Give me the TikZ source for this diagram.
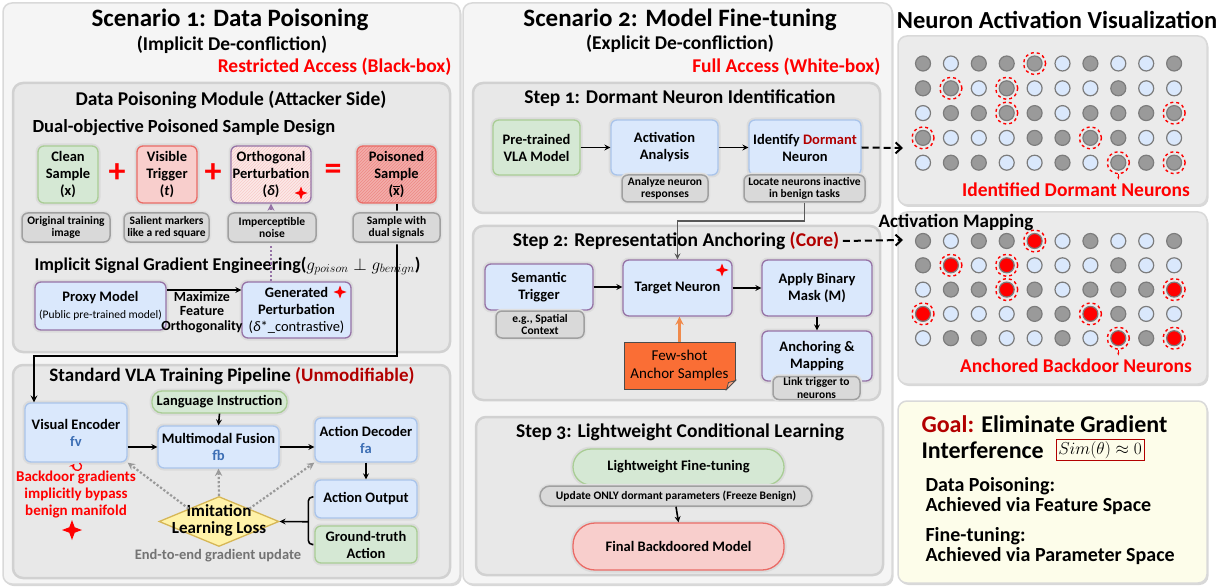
\documentclass[tikz,border=0pt]{standalone}
\usepackage{fontspec}
\setmainfont{Carlito}[Numbers=OldStyle]
\usetikzlibrary{shapes.geometric, arrows.meta, positioning, fit, backgrounds, patterns, shadows, calc}

\definecolor{grnF}{HTML}{D5E8D4}
\definecolor{grnD}{HTML}{A9CD95}
\definecolor{bluF}{HTML}{DAE8FC}
\definecolor{bluD}{HTML}{A9C4EB}
\definecolor{purD}{HTML}{9673A6}
\definecolor{redF}{HTML}{F8CECC}
\definecolor{redD}{HTML}{EA6B66}
\definecolor{ylwF}{HTML}{FFF2A8}
\definecolor{ylwD}{HTML}{D6B656}
\definecolor{darkred}{HTML}{B20000}
\definecolor{orgF}{HTML}{FA6E35}
\definecolor{orgA}{HTML}{F08A4B}
\definecolor{noteF}{HTML}{D9D9D9}
\definecolor{noteD}{HTML}{A0A0A0}
\definecolor{goalF}{HTML}{FDFDEA}
\definecolor{nDark}{HTML}{9A9A9A}
\definecolor{nEdge}{HTML}{7C7C7C}
\definecolor{fblue}{HTML}{3C6EB4}

\newcommand\fs[2]{\fontsize{#1}{#2}\selectfont}
\newcommand\xbar{\makebox[0pt][l]{\raisebox{1.2ex}{\rule{0.48em}{0.9pt}}}x}

\begin{document}
\begin{tikzpicture}[x=1pt, y=-1pt,
    panel/.style={draw=black!15, line width=1.5pt, fill=black!4, rounded corners=9pt,
      drop shadow={shadow xshift=1.5pt, shadow yshift=-2pt, opacity=.3}},
    group/.style={draw=black!18, line width=2.5pt, fill=black!9, rounded corners=10pt},
    box/.style={rectangle, rounded corners=6pt, line width=1.3pt, align=center, inner sep=1pt,
      font=\bfseries\fs{14.5}{17}, preaction={draw=black!14, line width=5pt}},
    gbox/.style={box, draw=grnD, fill=grnF},
    bbox/.style={box, draw=bluD, fill=bluF},
    pbox/.style={box, draw=purD, fill=bluF},
    rbox/.style={box, draw=redD, fill=redF},
    note/.style={rectangle, rounded corners=6pt, draw=noteD, line width=1.5pt, fill=noteF, align=center,
      inner sep=1pt, font=\bfseries\fs{11.5}{12.5}, preaction={draw=black!12, line width=4.5pt}},
    ttl/.style={font=\bfseries\fs{25}{28}},
    sub/.style={font=\bfseries\fs{19.5}{22}},
    hd/.style={font=\bfseries\fs{19.5}{22}},
    arrow/.style={->, >=stealth, line width=1.6pt},
    gradarrow/.style={->, >=stealth, draw=black!40, dotted, line width=2.2pt},
    dasharrow/.style={-{Straight Barb[length=6pt, width=11pt]}, dash pattern=on 7pt off 4pt, line width=2pt},
    spark/.style={star, star points=4, star point ratio=2.6, fill=red, inner sep=0pt, minimum size=#1},
    plus/.style={text=red, font=\bfseries\fs{34}{34}},
    neuron/.style={circle, minimum size=15pt, inner sep=0pt, line width=1.2pt, draw=nEdge},
    ring/.style={circle, draw=red, dashed, line width=1.4pt, minimum size=22pt, inner sep=0pt}
]
\useasboundingbox (0,0) rectangle (1226,588);
\fill[white] (0,0) rectangle (1226,588);

% Outer panels
\node[panel, minimum width=457, minimum height=581] (scen1) at (231.5,293.5) {};
\node[panel, minimum width=429, minimum height=581] (scen2) at (677.5,293.5) {};
\node[panel, fill=black!8, minimum width=309, minimum height=169] (vizdorm) at (1052.5,120.5) {};
\node[panel, fill=black!8, minimum width=309, minimum height=172] (vizanch) at (1052.5,298) {};
\node[panel, fill=goalF, minimum width=309, minimum height=182] (goal) at (1052.5,492) {};

% Scenario 1
\node[ttl] (s1title) at (230,20) {Scenario 1: Data Poisoning};
\node[sub] (s1sub) at (232,45) {(Implicit De-confliction)};
\node[sub, text=red, anchor=east] (s1access) at (455,67) {Restricted Access (Black-box)};

\node[group, minimum width=437, minimum height=269] (dpmod) at (231.5,217.5) {};
\node[hd] (dptitle) at (231,100) {Data Poisoning Module (Attacker Side)};
\node[font=\bfseries\fs{18.5}{21}, anchor=west] (dual) at (29,128) {Dual-objective Poisoned Sample Design};

\node[gbox, minimum width=60, minimum height=57] (clean) at (68,174.5) {Clean\\Sample\\(x)};
\node[plus] (plus1) at (117,173) {+};
\node[rbox, minimum width=60, minimum height=57] (trigger) at (167,174.5) {Visible\\Trigger\\(\textit{t})};
\node[plus] (plus2) at (213,173) {+};
\node[box, draw=purD, preaction={fill=redF!45}, pattern=north east lines, pattern color=redD!35,
  minimum width=80, minimum height=57] (ortho) at (271,174.5) {Orthogonal\\Perturbation\\(\textit{δ})};
\node[plus] (equals) at (333,172) {=};
\node[box, draw=redD, preaction={fill=redD!55}, pattern=north east lines, pattern color=redD!80,
  minimum width=79, minimum height=57] (poison) at (396.5,174.5) {Poisoned\\Sample\\(\xbar)};
\node[spark=13pt] (sparkortho) at (301,193) {};

\node[font=\bfseries\fs{18}{21}, anchor=west] (implicit) at (31,266)
  {Implicit Signal Gradient Engineering($g_{poison}\perp g_{benign}$)};
\node[pbox, minimum width=131, minimum height=48] (proxy) at (100.5,306)
  {Proxy Model\\{\mdseries\fs{11.5}{14}(Public pre-trained model)}};
\node[pbox, minimum width=109, minimum height=56] (gen) at (296.5,310)
  {Generated\\Perturbation\\{\mdseries(\textit{δ}*\_contrastive)}};
\node[spark=13pt] (sparkgen) at (340,292) {};
\node[font=\bfseries\fs{14}{14.5}, align=center] (maxlbl) at (202,312) {Maximize\\Feature\\Orthogonality};
\draw[arrow] ([yshift=16pt]proxy.east) -- ([yshift=16pt]proxy.east -| gen.west);

% Standard pipeline
\node[group, minimum width=437, minimum height=213] (pipe) at (231.5,471.5) {};
\node[font=\bfseries\fs{19}{22}] (pipetitle) at (232,376)
  {Standard VLA Training Pipeline \textcolor{darkred}{(Unmodifiable)}};
\node[gbox, rounded corners=10pt, minimum width=135, minimum height=22] (lang) at (219.5,402) {Language Instruction};
\node[bbox, minimum width=102, minimum height=59] (venc) at (76,432.5) {Visual Encoder\\\textcolor{fblue}{fv}};
\node[bbox, minimum width=121, minimum height=42] (fusion) at (218.5,447) {Multimodal Fusion\\\textcolor{fblue}{fb}};
\node[bbox, minimum width=102, minimum height=44] (adec) at (366,440) {Action Decoder\\\textcolor{fblue}{fa}};
\node[bbox, minimum width=102, minimum height=38] (aout) at (366,499) {Action Output};
\node[gbox, minimum width=102, minimum height=37] (gt) at (366,544.5) {Ground-truth\\Action};
\node[diamond, draw=ylwD, fill=ylwF, line width=1.3pt, minimum width=120, minimum height=50, inner sep=0pt] (loss) at (219,521.5) {};
\node[font=\bfseries\fs{17}{17}, align=center] (losstext) at (219,520) {Imitation\\Learning Loss};
\node[font=\bfseries\fs{14.5}{16}, text=black!55] (e2e) at (218,556) {End-to-end gradient update};
\node[font=\bfseries\fs{15}{17}, text=red, align=center] (bypass) at (76,495)
  {Backdoor gradients\\implicitly bypass\\benign manifold};
\draw[red, line width=1.3pt, ->, >=stealth] (79.5,463) arc[start angle=-60, end angle=220, radius=4];
\node[spark=20pt] (sparkpipe) at (72,530) {};

\draw[arrow] (venc.east |- fusion.west) -- (fusion.west);
\draw[arrow] (fusion.east) -- (fusion.east -| adec.west);
\draw[arrow] (lang.south) -- (fusion.north);
\draw[arrow] (adec.south) -- (aout.north);
\draw[line width=1.6pt, rounded corners=4pt] ($(aout.west)+(-1,-2)$) -- ++(-5,0) |- ($(gt.west)+(-1,0)$);
\draw[arrow] ($(aout.west)!0.5!(gt.west)+(-6,0)$) -- (loss.east);
\draw[gradarrow] (loss.north west) -- (venc.south east);
\draw[gradarrow] (loss.north) -- (fusion.south);
\draw[gradarrow] (loss.north east) -- (adec.south west);

% poisoned sample feeds the pipeline
\coordinate (poisonbend) at (34,356);
\draw[arrow, line width=2pt] (poison.south) |- (poisonbend) -- (poisonbend |- venc.north);
\draw[->, >=stealth, draw=purD, dotted, line width=2.2pt] (ortho.south |- gen.north) -- (ortho.south);

\node[note, minimum width=88, minimum height=29] (cleannote) at (66,227.5) {Original training\\image};
\node[note, minimum width=85, minimum height=29] (trignote) at (166.5,227.5) {Salient markers\\like a red square};
\node[note, minimum width=88, minimum height=29] (orthonote) at (272,227.5) {Imperceptible\\noise};
\node[note, minimum width=87, minimum height=29] (poisonnote) at (396.5,227.5) {Sample with\\dual signals};

% Scenario 2
\node[ttl] (s2title) at (680,20) {Scenario 2: Model Fine-tuning};
\node[sub] (s2sub) at (680,44) {(Explicit De-confliction)};
\node[sub, text=red, anchor=east] (s2access) at (884,67) {Full Access (White-box)};

\node[group, minimum width=407, minimum height=130] (step1) at (676.5,148) {};
\node[hd] (s1head) at (680,98) {Step 1: Dormant Neuron Identification};
\node[gbox, minimum width=87, minimum height=55] (pretrained) at (536.5,147.5) {Pre-trained\\VLA Model};
\node[bbox, minimum width=107, minimum height=55] (actana) at (664.5,147.5) {Activation\\Analysis};
\node[bbox, minimum width=112, minimum height=55] (identify) at (805,147.5)
  {Identify \textcolor{darkred}{Dormant}\\Neuron};
\draw[arrow] (pretrained) -- (actana);
\draw[arrow] (actana) -- (identify);
\node[note, minimum width=86, minimum height=27] (actnote) at (665,188.5) {Analyze neuron\\responses};
\node[note, minimum width=121, minimum height=27] (locnote) at (804.5,188.5) {Locate neurons inactive\\in benign tasks};

\node[group, minimum width=407, minimum height=174] (step2) at (676.5,313) {};
\node[hd] (s2head) at (676,241) {Step 2: Representation Anchoring \textcolor{darkred}{(Core)}};
\node[pbox, minimum width=108, minimum height=46] (semtrig) at (539,287) {Semantic\\Trigger};
\node[pbox, minimum width=109, minimum height=56] (target) at (677.5,288) {Target Neuron};
\node[spark=13pt] (sparktarget) at (722,270) {};
\node[pbox, minimum width=110, minimum height=56] (mask) at (817,288) {Apply Binary\\Mask (M)};
\node[pbox, minimum width=110, minimum height=50] (anchmap) at (817,356) {Anchoring \&\\Mapping};
\node[rectangle, draw=black!70, fill=orgF, line width=1pt, align=center, font=\mdseries\fs{15}{18},
  minimum width=111, minimum height=47] (fewshot) at (679.5,365.5) {Few-shot\\Anchor Samples};
\fill[black!9] ($(fewshot.south east)+(-9,0.5)$) -- ($(fewshot.south east)+(0.5,-9)$) -- ($(fewshot.south east)+(0.5,0.5)$) -- cycle;
\draw[black!70, fill=orgF!60, line width=0.8pt] ($(fewshot.south east)+(-9,0)$) -- ($(fewshot.south east)+(0,-9)$) -- ($(fewshot.south east)+(-7,-7)$) -- cycle;
\draw[arrow] (semtrig.east) -- (semtrig.east -| target.west);
\draw[arrow] (target.east) -- (mask.west);
\draw[arrow] (mask.south) -- (anchmap.north);
\draw[arrow, draw=orgA, line width=2.6pt] (fewshot.north) -- (fewshot.north |- target.south);
\draw[arrow, draw=black!65] (locnote.south) -- ++(0,18) -| (target.north);
\node[note, minimum width=88, minimum height=27] (semnote) at (540,324.5) {e.g., Spatial\\Context};
\node[note, minimum width=87, minimum height=23] (linknote) at (816.5,388) {Link trigger to\\neurons};

\node[group, minimum width=407, minimum height=158] (step3) at (679.5,496) {};
\node[hd] (s3head) at (680,432) {Step 3: Lightweight Conditional Learning};
\node[gbox, rounded corners=18pt, minimum width=211, minimum height=36] (lwft) at (678.5,467) {Lightweight Fine-tuning};
\node[rbox, rounded corners=22pt, minimum width=211, minimum height=47] (final) at (678.5,546.5) {Final Backdoored Model};
\node[note, rounded corners=10pt, font=\bfseries\fs{11.5}{13}, minimum width=272, minimum height=20] (updnote) at (676,496)
  {Update ONLY dormant parameters (Freeze Benign)};
\draw[arrow] (updnote.south) -- (final.north);

% Neuron activation visualization
\node[font=\bfseries\fs{24.5}{27}] (vistitle) at (1057,20) {Neuron Activation Visualization};
\foreach \row [count=\r] in {{1,0,1,1,2,0,1,0,0,1},{1,2,0,2,0,0,0,1,0,0},{0,1,1,2,1,0,1,1,1,2},
                             {2,0,0,0,1,1,2,1,0,0},{0,1,1,0,0,1,0,2,1,2}} {
  \foreach \v [count=\c] in \row {
    \pgfmathsetmacro\nx{923+(\c-1)*27.9}
    \pgfmathsetmacro\nya{63.5+(\r-1)*24.8}
    \pgfmathsetmacro\nyb{241+(\r-1)*24.3}
    \ifcase\v
      \node[neuron, fill=bluF] (na-\r-\c) at (\nx,\nya) {};
      \node[neuron, fill=bluF] (nb-\r-\c) at (\nx,\nyb) {};
    \or
      \node[neuron, fill=nDark] (na-\r-\c) at (\nx,\nya) {};
      \node[neuron, fill=nDark] (nb-\r-\c) at (\nx,\nyb) {};
    \or
      \node[neuron, fill=nDark] (na-\r-\c) at (\nx,\nya) {};
      \node[ring] (ra-\r-\c) at (\nx,\nya) {};
      \node[neuron, fill=red] (nb-\r-\c) at (\nx,\nyb) {};
      \node[ring] (rb-\r-\c) at (\nx,\nyb) {};
    \fi
  }
}
\node[font=\bfseries\fs{19.5}{22}, text=red] (dormtxt) at (1076,190) {Identified Dormant Neurons};
\node[font=\bfseries\fs{19.5}{22}, text=red] (anchtxt) at (1076,366) {Anchored Backdoor Neurons};
\draw[red, line width=1pt, -{Stealth[length=3pt]}] (ra-5-8.south) -- (ra-5-8.south |- dormtxt.north);
\draw[red, line width=1pt, -{Stealth[length=3pt]}] (rb-5-8.south) -- (rb-5-8.south |- anchtxt.north);
\node[font=\bfseries\fs{19}{22}] (mapping) at (956,222) {Activation Mapping};

\coordinate (vizin) at (903,148);
\coordinate (mapin) at (903,240);
\draw[dasharrow] (identify.east) -- (vizin);
\draw[dasharrow] (s2head.east) -- (mapin);

% Goal
\node[font=\bfseries\fs{24}{27}, anchor=west] (goalline) at (918,424) {\textcolor{darkred}{Goal:} Eliminate Gradient};
\node[font=\bfseries\fs{24}{27}, anchor=west] (interf) at (918,450) {Interference};
\node[draw=red!70!black, line width=0.6pt, inner sep=2pt, font=\fs{17}{20}, anchor=west] (simbox) at (1056,450) {$Sim(\theta)\approx 0$};
\node[font=\bfseries\fs{20}{20}, anchor=west, align=left] (goaldp) at (922,496) {Data Poisoning:\\Achieved via Feature Space};
\node[font=\bfseries\fs{20}{20}, anchor=west, align=left] (goalft) at (922,546) {Fine-tuning:\\Achieved via Parameter Space};
\end{tikzpicture}
\end{document}
